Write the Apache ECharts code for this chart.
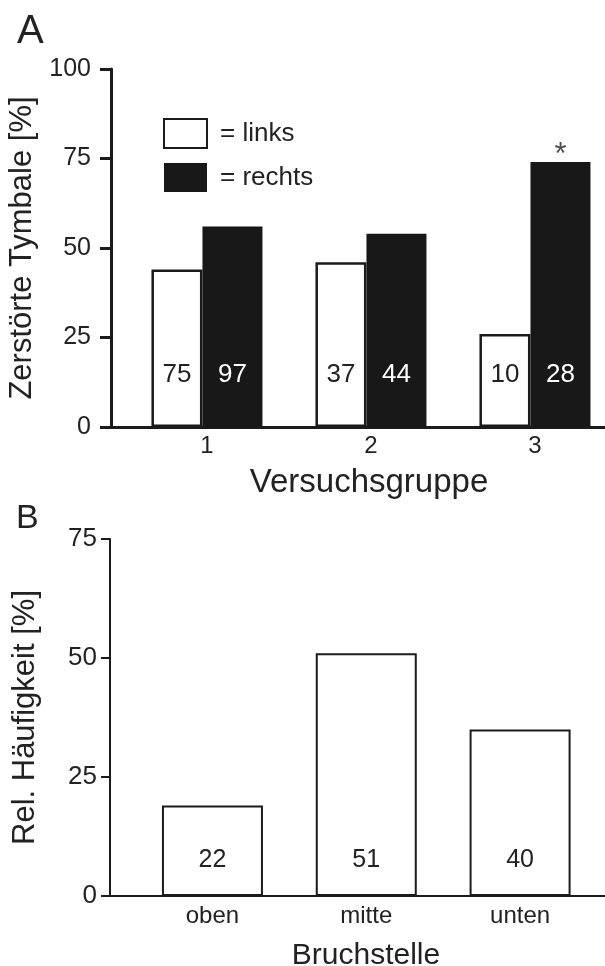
<!DOCTYPE html>
<html>
<head>
<meta charset="utf-8">
<script src="https://cdn.jsdelivr.net/npm/echarts@6/dist/echarts.min.js"></script>
<style>
  html, body { margin: 0; padding: 0; background: #ffffff; }
  #chart { width: 605px; height: 966px; }
</style>
</head>
<body>
<div id="chart"></div>
<script>
// Panel A: destroyed tymbals per test group, left and right side (%)
const groupsA = [1, 2, 3];
const destroyedLeft = [44, 46, 26];
const destroyedRight = [56, 54, 74];
// sample sizes printed inside the bars
const nLeft = [75, 37, 10];
const nRight = [97, 44, 28];
// group with a significant left/right difference
const markedGroups = [3];

// Panel B: relative frequency of the fracture position (%)
const positionsB = ['oben', 'mitte', 'unten'];
const frequencyB = [19, 51, 35];
const nB = [22, 51, 40];

const FONT = '"Liberation Sans", Arial, Helvetica, sans-serif';
const INK = '#1b1b1b';
const TEXT = '#222222';

// bar widths of panel A (white bar with outline, black bar)
const wLeft = 51, wRight = 60;
const rightBarShift = -(wLeft + wRight) / 2 + wLeft + wRight / 2;

const chart = echarts.init(document.getElementById('chart'), null, { renderer: 'canvas' });

const option = {
  backgroundColor: '#ffffff',
  animation: false,
  textStyle: { fontFamily: FONT, color: TEXT },
  title: [
    { text: 'A', left: 12, top: 7, textStyle: { fontFamily: FONT, fontSize: 40, fontWeight: 'normal', color: TEXT } },
    { text: 'B', left: 11, top: 497, textStyle: { fontFamily: FONT, fontSize: 34, fontWeight: 'normal', color: TEXT } }
  ],
  legend: {
    data: ['links', 'rechts'],
    orient: 'vertical',
    left: 158,
    top: 113,
    icon: 'rect',
    itemWidth: 43,
    itemHeight: 29,
    itemGap: 14,
    selectedMode: false,
    formatter: '= {name}',
    textStyle: { fontFamily: FONT, fontSize: 26, color: TEXT, padding: [0, 0, 0, 8] }
  },
  grid: [
    { left: 111, right: 0, top: 69, height: 358, outerBoundsMode: 'none' },
    { left: 110, right: 0, top: 539, height: 357, outerBoundsMode: 'none' }
  ],
  xAxis: [
    {
      gridIndex: 0, type: 'value', min: 0.415, max: 3.427,
      axisLine: { show: true, onZero: false, lineStyle: { color: INK, width: 3 } },
      axisTick: { show: false },
      splitLine: { show: false },
      axisLabel: { customValues: groupsA, fontFamily: FONT, fontSize: 24, margin: 7, color: TEXT },
      name: 'Versuchsgruppe', nameLocation: 'middle', nameGap: 39,
      nameTextStyle: { fontFamily: FONT, fontSize: 33, color: TEXT, padding: [0, 0, 0, 22] }
    },
    {
      gridIndex: 1, type: 'value', min: 0.334, max: 3.552,
      axisLine: { show: true, onZero: false, lineStyle: { color: INK, width: 2 } },
      axisTick: { show: false },
      splitLine: { show: false },
      axisLabel: {
        customValues: [1, 2, 3], fontFamily: FONT, fontSize: 24, margin: 8, color: TEXT,
        formatter: v => positionsB[Math.round(v) - 1]
      },
      name: 'Bruchstelle', nameLocation: 'middle', nameGap: 45,
      nameTextStyle: { fontFamily: FONT, fontSize: 30, color: TEXT, padding: [0, 0, 0, 17] }
    }
  ],
  yAxis: [
    {
      gridIndex: 0, type: 'value', min: 0, max: 100, interval: 25,
      axisLine: { show: true, onZero: false, lineStyle: { color: INK, width: 3 } },
      axisTick: { show: true, length: 11, lineStyle: { color: INK, width: 3 } },
      splitLine: { show: false },
      axisLabel: { fontFamily: FONT, fontSize: 25, margin: 20, color: TEXT },
      name: 'Zerstörte Tymbale [%]', nameLocation: 'middle', nameGap: 71,
      nameTextStyle: { fontFamily: FONT, fontSize: 31, color: TEXT }
    },
    {
      gridIndex: 1, type: 'value', min: 0, max: 75, interval: 25,
      axisLine: { show: true, onZero: false, lineStyle: { color: INK, width: 2 } },
      axisTick: { show: true, length: 9, lineStyle: { color: INK, width: 2 } },
      splitLine: { show: false },
      axisLabel: { fontFamily: FONT, fontSize: 26, margin: 13, color: TEXT },
      name: 'Rel. Häufigkeit [%]', nameLocation: 'middle', nameGap: 69,
      nameTextStyle: { fontFamily: FONT, fontSize: 31, color: TEXT }
    }
  ],
  series: [
    {
      name: 'links', type: 'bar', xAxisIndex: 0, yAxisIndex: 0,
      data: groupsA.map((g, i) => [g, destroyedLeft[i]]),
      barWidth: wLeft, barGap: 0,
      itemStyle: { color: '#ffffff', borderColor: INK, borderWidth: 2.5 },
      label: {
        show: true, position: 'insideBottom', distance: 39,
        formatter: p => String(nLeft[p.dataIndex]),
        fontFamily: FONT, fontSize: 26, color: TEXT
      }
    },
    {
      name: 'rechts', type: 'bar', xAxisIndex: 0, yAxisIndex: 0,
      data: groupsA.map((g, i) => [g, destroyedRight[i]]),
      barWidth: wRight, barGap: 0,
      itemStyle: { color: '#181818' },
      label: {
        show: true, position: 'insideBottom', distance: 39,
        formatter: p => String(nRight[p.dataIndex]),
        fontFamily: FONT, fontSize: 26, color: '#ffffff'
      }
    },
    {
      // significance star above the right-side bar
      type: 'scatter', xAxisIndex: 0, yAxisIndex: 0, silent: true,
      data: markedGroups.map(g => [g, destroyedRight[groupsA.indexOf(g)]]),
      symbolSize: 0,
      label: {
        show: true, position: 'top', distance: -9, offset: [rightBarShift, 0],
        formatter: '*', fontFamily: FONT, fontSize: 31, color: TEXT
      }
    },
    {
      type: 'bar', xAxisIndex: 1, yAxisIndex: 1,
      data: positionsB.map((p, i) => [i + 1, frequencyB[i]]),
      barWidth: 101,
      itemStyle: { color: '#ffffff', borderColor: INK, borderWidth: 2 },
      label: {
        show: true, position: 'insideBottom', distance: 23,
        formatter: p => String(nB[p.dataIndex]),
        fontFamily: FONT, fontSize: 25, color: TEXT
      }
    }
  ]
};

chart.setOption(option);
</script>
</body>
</html>
